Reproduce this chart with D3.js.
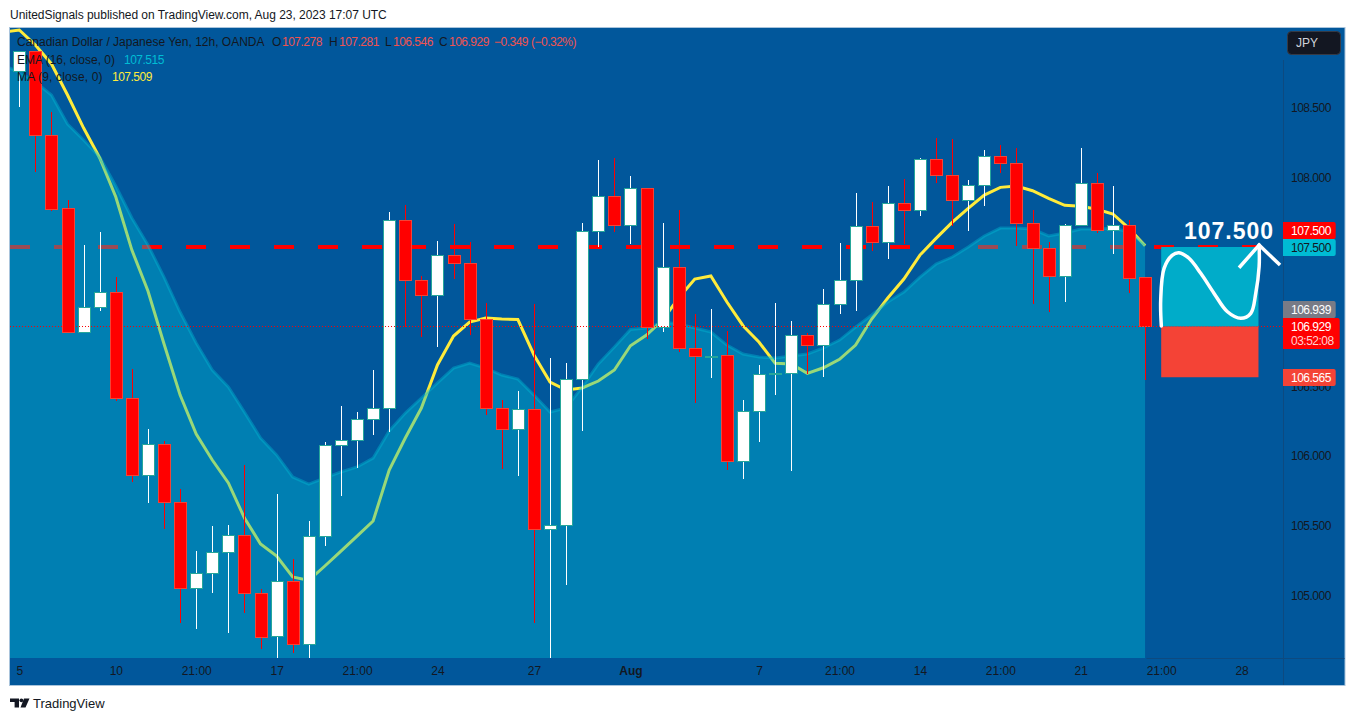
<!DOCTYPE html>
<html><head><meta charset="utf-8">
<script src="https://cdn.jsdelivr.net/npm/d3@7/dist/d3.min.js"></script>
<style>html,body{margin:0;padding:0;background:#fff;overflow:hidden}svg{display:block}text{font-family:"Liberation Sans",Arial,sans-serif}</style>
</head><body><svg id="c" width="1355" height="721"></svg>
<script>
const opens=[108.763,108.907,108.304,107.773,106.885,107.064,107.175,106.414,105.861,106.083,105.664,105.050,105.157,105.305,105.427,105.014,104.700,105.097,104.648,105.420,106.076,106.112,106.263,106.342,107.692,107.261,107.153,107.440,107.383,106.981,106.342,106.191,106.335,105.473,105.502,106.550,107.612,107.866,107.656,107.921,106.923,107.354,106.773,106.712,106.723,105.961,106.320,106.586,106.595,106.866,106.794,107.089,107.261,107.648,107.534,107.814,107.763,108.129,108.015,107.835,107.943,108.151,108.101,107.670,107.491,107.290,107.653,107.957,107.620,107.653,107.278];
const closes=[108.907,108.304,107.773,106.885,107.064,107.175,106.414,105.861,106.083,105.664,105.050,105.157,105.305,105.427,105.014,104.700,105.097,104.648,105.420,106.076,106.112,106.263,106.342,107.692,107.261,107.153,107.440,107.383,106.981,106.342,106.191,106.335,105.473,105.502,106.550,107.612,107.866,107.656,107.921,106.923,107.354,106.773,106.712,106.716,105.961,106.320,106.586,106.595,106.866,106.794,107.089,107.261,107.648,107.534,107.814,107.763,108.129,108.015,107.835,107.943,108.151,108.101,107.670,107.491,107.290,107.653,107.957,107.620,107.653,107.275,106.929];
const highs=[108.907,108.907,108.469,107.837,107.514,107.608,107.282,106.622,106.193,106.105,105.760,105.318,105.497,105.504,105.935,105.045,105.727,105.258,105.533,106.100,106.358,106.315,106.617,107.751,107.801,107.292,107.543,107.665,107.538,107.096,106.402,106.466,107.091,106.701,106.665,107.672,108.124,108.137,108.010,107.921,107.670,107.765,107.019,107.055,106.897,106.402,106.653,107.098,106.969,106.885,107.198,107.529,107.888,107.825,107.938,107.986,108.139,108.282,108.273,107.981,108.196,108.232,108.211,107.765,107.536,107.665,108.211,108.029,107.938,107.694,107.281];
const lows=[108.505,108.038,107.758,106.885,106.885,107.043,106.394,105.815,105.660,105.475,104.803,104.760,105.018,104.731,104.875,104.616,104.549,104.587,104.549,105.353,105.712,105.913,106.150,106.172,106.928,106.856,106.784,107.272,106.866,106.294,105.906,105.856,104.803,104.549,105.073,106.181,107.500,107.610,107.521,106.839,106.892,106.748,106.382,106.562,105.899,105.834,106.100,106.437,105.892,106.588,106.569,107.021,107.040,107.473,107.416,107.524,107.722,107.957,107.653,107.615,107.794,108.029,107.509,107.091,107.035,107.107,107.653,107.603,107.452,107.167,106.546];
// moving averages start one bar before the first visible candle
const ma9=[109.043,109.058,108.950,108.814,108.591,108.354,108.139,107.859,107.478,107.184,106.804,106.437,106.157,105.971,105.806,105.554,105.368,105.282,105.131,105.106,105.210,105.317,105.425,105.533,105.899,106.129,106.344,106.653,106.861,106.961,106.990,106.983,106.979,106.725,106.531,106.473,106.488,106.538,106.617,106.791,106.868,106.976,107.134,107.270,107.292,107.105,106.935,106.816,106.665,106.660,106.593,106.633,106.694,106.796,106.983,107.134,107.270,107.442,107.562,107.677,107.778,107.873,107.928,107.938,107.904,107.849,107.799,107.792,107.771,107.737,107.634,107.509];
const ema16=[108.806,108.756,108.684,108.591,108.383,108.268,108.146,107.938,107.708,107.514,107.284,107.033,106.811,106.617,106.495,106.315,106.129,106.007,105.849,105.798,105.842,105.885,105.921,105.985,106.179,106.308,106.416,106.524,106.631,106.667,106.631,106.581,106.552,106.437,106.315,106.344,106.495,106.660,106.782,106.908,106.918,106.961,106.947,106.918,106.890,106.796,106.732,106.710,106.703,106.717,106.732,106.775,106.832,106.925,107.012,107.105,107.177,107.284,107.378,107.428,107.500,107.579,107.636,107.636,107.629,107.579,107.600,107.629,107.629,107.636,107.608,107.515];
const priceTicks=[105,105.5,106,106.5,107.5,108,108.5];
const timeTicks=[0,6,11,16,21,26,32,38,46,51,56,61,66,71,76];
const timeLabels=["5","10","21:00","17","21:00","24","27","Aug","7","21:00","14","21:00","21","21:00","28"];
const targetPrice=107.5, lastPrice=106.929, stopPrice=106.565, prevPrice=106.939;
const tradeStartBar=71, tradeEndBar=77.05;
const curveBars=[71.01,70.97,71.18,71.7,72.11,72.73,73.46,74.29,75.12,75.95,76.57,76.88,77.09,77.09];
const curvePrices=[106.933,107.119,107.347,107.442,107.459,107.419,107.311,107.167,107.035,106.988,107.024,107.167,107.359,107.514];
const headBars=[75.84,77.09,78.39];
const headPrices=[107.351,107.514,107.370];

const L=10,R=1283.7,T=28,B=658,FR=1344.5,FB=685;
const BG="#01579b",INK="#131722";
const x=d3.scaleLinear().domain([0,70]).range([19.3,1145.1]);
const y=d3.scaleLinear().domain([107.5,108.5]).range([247,107.7]);
const svg=d3.select("#c");
const crisp=v=>Math.round(v)+0.5;
const NUM=-0.5; // price digits sit tighter than the UI text

svg.append("rect").attr("x",L-0.5).attr("y",27.5).attr("width",FR-L+1).attr("height",FB-27).attr("fill",BG).attr("stroke","#a9c4dc");
const defs=svg.append("defs");
defs.append("clipPath").attr("id","plot").append("rect").attr("x",L).attr("y",T).attr("width",R-L).attr("height",B-T);
const plot=svg.append("g").attr("clip-path","url(#plot)");

plot.append("line").attr("x1",L).attr("x2",R).attr("y1",y(targetPrice)).attr("y2",y(targetPrice))
  .attr("stroke","#ff0000").attr("stroke-width",4).attr("stroke-dasharray","20 24");

const idx=d3.range(-1,71);
const lineMA=d3.line().x(i=>x(i)).y(i=>y(ma9[i+1]));
const lineEMA=d3.line().x(i=>x(i)).y(i=>y(ema16[i+1]));
plot.append("path").attr("d",lineMA(idx)).attr("fill","none").attr("stroke","#ffeb3b").attr("stroke-width",3);
const area=d3.area().x(i=>x(i)).y0(B).y1(i=>y(ema16[i+1]));
plot.append("path").attr("d",area(idx)).attr("fill","rgba(0,188,212,0.4)");
plot.append("path").attr("d",lineEMA(idx)).attr("fill","none").attr("stroke","rgba(0,188,212,0.4)").attr("stroke-width",3);

const candles=plot.append("g").attr("shape-rendering","crispEdges").selectAll("g").data(d3.range(opens.length)).join("g");
candles.append("line")
  .attr("x1",i=>crisp(x(i))).attr("x2",i=>crisp(x(i)))
  .attr("y1",i=>y(highs[i])).attr("y2",i=>y(lows[i]))
  .attr("stroke",i=>closes[i]>=opens[i]?"#ffffff":"#ff0000").attr("stroke-width",1);
candles.append("rect")
  .attr("x",i=>crisp(x(i))-6).attr("width",12)
  .attr("y",i=>crisp(y(Math.max(opens[i],closes[i]))-0.5))
  .attr("height",i=>Math.max(1,Math.round(Math.abs(y(opens[i])-y(closes[i])))))
  .attr("fill",i=>closes[i]>=opens[i]?"#ffffff":"#ff0000")
  .attr("stroke",i=>closes[i]>=opens[i]?"#26a69a":"#f44336").attr("stroke-width",1);

plot.append("line").attr("x1",L).attr("x2",R).attr("y1",crisp(y(lastPrice)-0.5)).attr("y2",crisp(y(lastPrice)-0.5))
  .attr("stroke","#ff0000").attr("stroke-width",1).attr("stroke-dasharray","1 2");

plot.append("rect").attr("x",x(tradeStartBar)).attr("width",x(tradeEndBar)-x(tradeStartBar))
  .attr("y",y(targetPrice)).attr("height",y(lastPrice)-y(targetPrice)).attr("fill","#00acc9");
plot.append("rect").attr("x",x(tradeStartBar)).attr("width",x(tradeEndBar)-x(tradeStartBar))
  .attr("y",y(lastPrice)).attr("height",y(stopPrice)-y(lastPrice)).attr("fill","#f44336");
const over=svg.append("g");
over.append("path").attr("d",d3.line().x((d,i)=>x(curveBars[i])).y((d,i)=>y(curvePrices[i])).curve(d3.curveCatmullRom)(curveBars))
  .attr("fill","none").attr("stroke","#fff").attr("stroke-width",3.5).attr("stroke-linecap","round");
over.append("path").attr("d",d3.line().x((d,i)=>x(headBars[i])).y((d,i)=>y(headPrices[i]))(headBars))
  .attr("fill","none").attr("stroke","#fff").attr("stroke-width",3.5).attr("stroke-linejoin","miter");
over.append("text").attr("x",1184).attr("y",239).attr("font-size",23).attr("font-weight",700).attr("letter-spacing",1)
  .attr("fill","#fff").text("107.500");

svg.append("line").attr("x1",Math.round(R)-0.5).attr("x2",Math.round(R)-0.5).attr("y1",60).attr("y2",FB).attr("stroke","#0d4a80");
svg.append("line").attr("x1",crisp(x(70))+1).attr("x2",FR).attr("y1",B+0.5).attr("y2",B+0.5).attr("stroke","#0d4a80");
const yAxis=d3.axisRight(y).tickValues(priceTicks).tickFormat(d3.format(".3f")).tickSize(0).tickPadding(0);
const gy=svg.append("g").attr("transform",`translate(${R+7.3},0)`).call(yAxis);
gy.select(".domain").remove();
gy.selectAll("text").attr("font-size",12).attr("fill",INK).attr("letter-spacing",NUM).style("font-family",'"Liberation Sans",Arial,sans-serif').attr("x",0);
const xAxis=d3.axisBottom(x).tickValues(timeTicks).tickFormat((d,i)=>timeLabels[i]).tickSize(0).tickPadding(0);
const gx=svg.append("g").attr("transform",`translate(0,${B+8})`).call(xAxis);
gx.select(".domain").remove();
gx.selectAll("text").attr("font-size",12).attr("fill",INK).style("font-family",'"Liberation Sans",Arial,sans-serif')
  .attr("font-weight",(d,i)=>timeLabels[i]==="Aug"?700:400);

function tag(price,y0,h,w,fill,col){
  svg.append("path").attr("d",`M${R-0.7},${y0}H${R+w-2}a2,2 0 0 1 2,2V${y0+h-2}a2,2 0 0 1 -2,2H${R-0.7}Z`).attr("fill",fill);
  svg.append("text").attr("x",R+7.3).attr("y",y0+13).attr("font-size",12).attr("letter-spacing",NUM).attr("fill",col).text(d3.format(".3f")(price));
}
tag(targetPrice,222,17,52,"#ff0000","#fff");
tag(targetPrice,239,17,52,"#00bcd4",INK);
tag(prevPrice,301,17,52,"#787b86","#fff");
tag(lastPrice,318,31,56,"#ff0000","#fff");
svg.append("text").attr("x",R+7.3).attr("y",345).attr("font-size",12).attr("letter-spacing",NUM).attr("fill","#ffd0d0").text("03:52:08");
tag(stopPrice,369,17,52,"#f44336","#fff");

svg.append("rect").attr("x",1287.5).attr("y",31.5).attr("width",53).attr("height",23).attr("rx",4).attr("fill",INK).attr("stroke","#363a45");
svg.append("text").attr("x",1296).attr("y",47).attr("font-size",12).attr("fill","#d1d4dc").text("JPY");

const leg=svg.append("g").attr("font-size",12);
function t(xp,yp,s,c,ls){leg.append("text").attr("x",xp).attr("y",yp).attr("fill",c).attr("letter-spacing",ls||0).text(s);}
t(17,46,"Canadian Dollar / Japanese Yen, 12h, OANDA",INK);
[["O","107.278",272],["H","107.281",329],["L","106.546",385],["C","106.929",439]].forEach(d=>{
  t(d[2],46,d[0],INK); t(d[2]+(d[0]==="L"?8:10),46,d[1],"#ef5350",NUM);
});
t(494,46,"−0.349","#ef5350",NUM);
t(531,46,"(−0.32%)","#ef5350",NUM);
t(17,64,"EMA (16, close, 0)",INK); t(124,64,"107.515","#00bcd4",NUM);
t(17,81,"MA (9, close, 0)",INK,0.15); t(112,81,"107.509","#ffeb3b",NUM);

svg.append("text").attr("x",10).attr("y",19).attr("font-size",12).attr("letter-spacing",-0.03).attr("fill",INK).text("UnitedSignals published on TradingView.com, Aug 23, 2023 17:07 UTC");
svg.append("path").attr("fill",INK).attr("d","M10,698.5H19V707.5H14.6V702H10ZM24,698.5H29.5L25.5,707.5H20.5Z");
svg.append("circle").attr("cx",21.4).attr("cy",700.3).attr("r",1.9).attr("fill",INK);
svg.append("text").attr("x",33).attr("y",708).attr("font-size",13).attr("fill",INK).text("TradingView");
</script></body></html>
